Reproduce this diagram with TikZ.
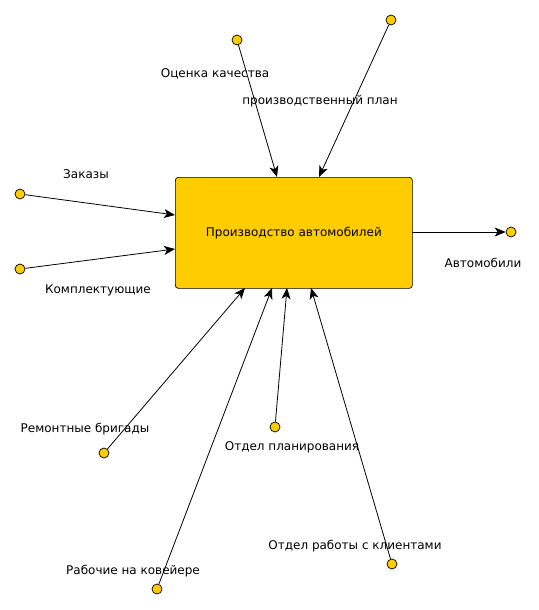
\documentclass[tikz,border=0pt]{standalone}
\usepackage{fontspec}
\setmainfont{DejaVu Sans}
\usetikzlibrary{arrows.meta}
\definecolor{gold}{HTML}{FFCC00}
\begin{document}
\begin{tikzpicture}[x=1pt,y=-1pt,
  port/.style={circle,draw=black,fill=gold,minimum size=10pt,inner sep=0pt,line width=0.7pt},
  lbl/.style={font=\fontsize{12}{14}\selectfont,inner sep=0pt},
  arr/.style={-{Stealth[length=11pt,width=9pt,inset=3pt]},line width=0.8pt}]
\useasboundingbox (0,0) rectangle (538,610);
\node[draw=black,fill=gold,rounded corners=3pt,minimum width=237pt,minimum height=111pt,inner sep=0pt,line width=0.7pt,anchor=north west,font=\fontsize{12}{14}\selectfont] (box) at (175,177) {Производство автомобилей};
% ports
\node[port] (q) at (237,40) {};
\node[port] (p) at (391,20) {};
\node[port] (z) at (20,194) {};
\node[port] (k) at (20,269) {};
\node[port] (a) at (511,232) {};
\node[port] (r) at (104,453) {};
\node[port] (w) at (157,589) {};
\node[port] (o) at (275,427) {};
\node[port] (c) at (392,564) {};
% targets
\coordinate (tq) at (277,177);
\coordinate (tp) at (319,177);
\coordinate (tz) at (175,215);
\coordinate (tk) at (175,249);
\coordinate (tr) at (245,288);
\coordinate (tw) at (272,288);
\coordinate (to) at (287,288);
\coordinate (tc) at (311,288);
\coordinate (sa) at (412,232);
% connectors
\draw[arr] (q) -- (tq);
\draw[arr] (p) -- (tp);
\draw[arr] (z) -- (tz);
\draw[arr] (k) -- (tk);
\draw[arr] (sa) -- (a);
\draw[arr] (r) -- (tr);
\draw[arr] (w) -- (tw);
\draw[arr] (o) -- (to);
\draw[arr] (c) -- (tc);
% labels
\node[lbl] (lq) at (215,74) {Оценка качества};
\node[lbl] (lp) at (320,101) {производственный план};
\node[lbl] (lz) at (86,174) {Заказы};
\node[lbl] (lk) at (98,290) {Комплектующие};
\node[lbl] (la) at (483,263) {Автомобили};
\node[lbl] (lr) at (85,429) {Ремонтные бригады};
\node[lbl] (lo) at (292,447) {Отдел планирования};
\node[lbl] (lc) at (355,546) {Отдел работы с клиентами};
\node[lbl] (lw) at (133,571) {Рабочие на ковейере};
\end{tikzpicture}
\end{document}
